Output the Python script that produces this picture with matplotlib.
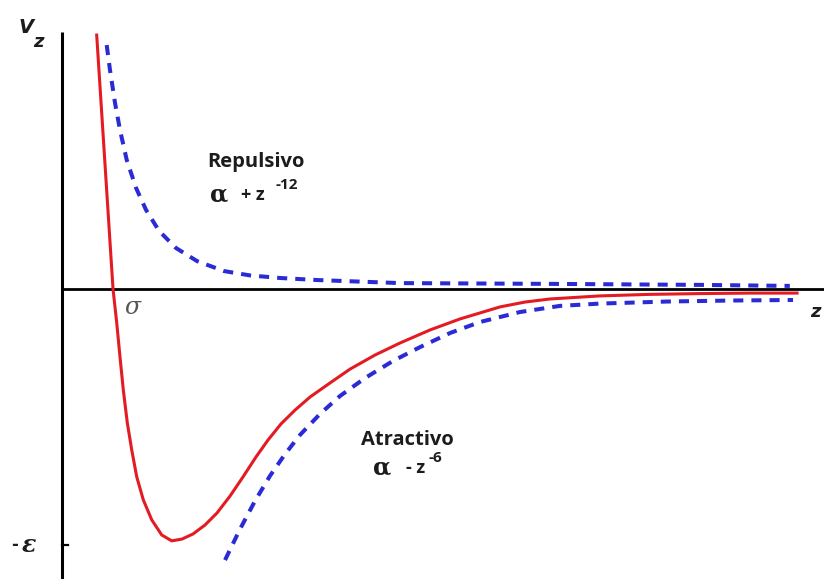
import matplotlib as mpl
mpl.use('Agg')
import matplotlib.pyplot as plt

FIGSIZE = 8.24, 5.79
RED = '#e31b23'
BLUE = '#2b2bd6'
INK = '#1c1c1c'

# z in units of sigma, V in units of epsilon
TOTAL_Z = [0.680, 1.000, 1.073, 1.137, 1.202, 1.280, 1.367, 1.465, 1.594, 1.759, 1.955,
           2.151, 2.353, 2.569, 2.804, 3.039, 3.294, 3.549, 3.804, 4.039, 4.294, 4.569,
           4.863, 5.255, 5.647, 6.137, 6.627, 7.216, 7.804, 8.588, 9.078, 9.569, 10.549,
           11.529, 12.510, 13.490, 14.412]
TOTAL_V = [0.992, 0.0, -0.133, -0.266, -0.395, -0.523, -0.629, -0.734, -0.824, -0.902,
           -0.961, -0.984, -0.977, -0.957, -0.922, -0.875, -0.809, -0.734, -0.656,
           -0.590, -0.527, -0.473, -0.422, -0.367, -0.313, -0.258, -0.211, -0.160,
           -0.117, -0.070, -0.051, -0.039, -0.027, -0.021, -0.018, -0.016, -0.016]

# repulsive branch, proportional to +z^-12
REP_Z = [0.876, 0.941, 1.039, 1.137, 1.269, 1.451, 1.647, 1.902, 2.235, 2.647, 3.176,
         3.686, 4.275, 5.0, 6.627, 9.569, 12.51, 14.27]
REP_V = [0.953, 0.855, 0.727, 0.621, 0.504, 0.395, 0.309, 0.227, 0.160, 0.109, 0.070,
         0.053, 0.043, 0.035, 0.023, 0.020, 0.016, 0.012]

# attractive branch, proportional to -z^-6
ATT_Z = [3.196, 3.490, 3.784, 4.078, 4.373, 4.667, 5.059, 5.451, 5.941, 6.490, 7.020,
         7.608, 8.196, 8.980, 9.765, 10.549, 11.863, 13.157, 14.333]
ATT_V = [-1.059, -0.938, -0.828, -0.730, -0.645, -0.570, -0.488, -0.418, -0.348,
         -0.281, -0.227, -0.172, -0.129, -0.090, -0.066, -0.057, -0.049, -0.045, -0.043]

SIGMA = 1.0
EPSILON = 1.0

fig = plt.figure(figsize=FIGSIZE, dpi=100)
ax = fig.add_axes([0, 0, 1, 1])
ax.set_xlim(-1.216, 14.94)
ax.set_ylim(-1.133, 1.129)
ax.axis('off')

# hand-drawn axes: V axis, z axis and the -epsilon tick
ax.plot([0, 0], [-1.2, 1.004], color='black', lw=2.2, solid_capstyle='butt')
ax.plot([0, 15], [0, 0], color='black', lw=2.0)
ax.plot([0, 0.12], [-EPSILON, -EPSILON], color='black', lw=1.6)

ax.plot(REP_Z, REP_V, color=BLUE, lw=2.9, dashes=(2.5, 2.0))
ax.plot(ATT_Z, ATT_V, color=BLUE, lw=2.9, dashes=(2.5, 2.0))
ax.plot(TOTAL_Z, TOTAL_V, color=RED, lw=2.2, solid_joinstyle='round')

# axis labels
ax.text(-0.706, 1.020, 'V', fontsize=14, fontweight='bold', fontstyle='italic',
        family='DejaVu Sans', ha='center', va='center', color=INK)
ax.text(-0.47, 0.966, 'z', fontsize=13, fontweight='bold', fontstyle='italic',
        family='DejaVu Sans', ha='center', va='center', color=INK)
ax.text(-0.93, -EPSILON, '-', fontsize=12, fontweight='bold',
        family='DejaVu Sans', ha='center', va='center', color=INK)
ax.text(-0.647, -EPSILON, '\u03b5', fontsize=17, fontweight='bold', fontstyle='italic',
        family='DejaVu Serif', ha='center', va='center', color=INK)
ax.text(SIGMA + 0.38, -0.074, '\u03c3', fontsize=17, fontstyle='italic', color='#555555',
        family='DejaVu Serif', ha='center', va='center')
ax.text(14.67, -0.09, 'z', fontsize=13, fontweight='bold', fontstyle='italic',
        family='DejaVu Sans', ha='left', va='center', color=INK)

# curve annotations
ax.text(3.80, 0.496, 'Repulsivo', fontsize=14.5, fontweight='bold', family='Open Sans',
        ha='center', va='center', color=INK)
ax.text(3.09, 0.371, '\u03b1', fontsize=17, fontweight='bold', family='DejaVu Serif',
        ha='center', va='center', color=INK)
ax.text(3.745, 0.368, '+ z', fontsize=13, fontweight='bold', family='Open Sans',
        ha='center', va='center', color=INK)
ax.text(4.41, 0.405, '-12', fontsize=11, fontweight='bold', family='Open Sans',
        ha='center', va='center', color=INK)

ax.text(6.78, -0.590, 'Atractivo', fontsize=14.5, fontweight='bold', family='Open Sans',
        ha='center', va='center', color=INK)
ax.text(6.27, -0.699, '\u03b1', fontsize=17, fontweight='bold', family='DejaVu Serif',
        ha='center', va='center', color=INK)
ax.text(6.94, -0.700, '- z', fontsize=13, fontweight='bold', family='Open Sans',
        ha='center', va='center', color=INK)
ax.text(7.33, -0.660, '-6', fontsize=11, fontweight='bold', family='Open Sans',
        ha='center', va='center', color=INK)

fig.savefig('out.png', dpi=100)
